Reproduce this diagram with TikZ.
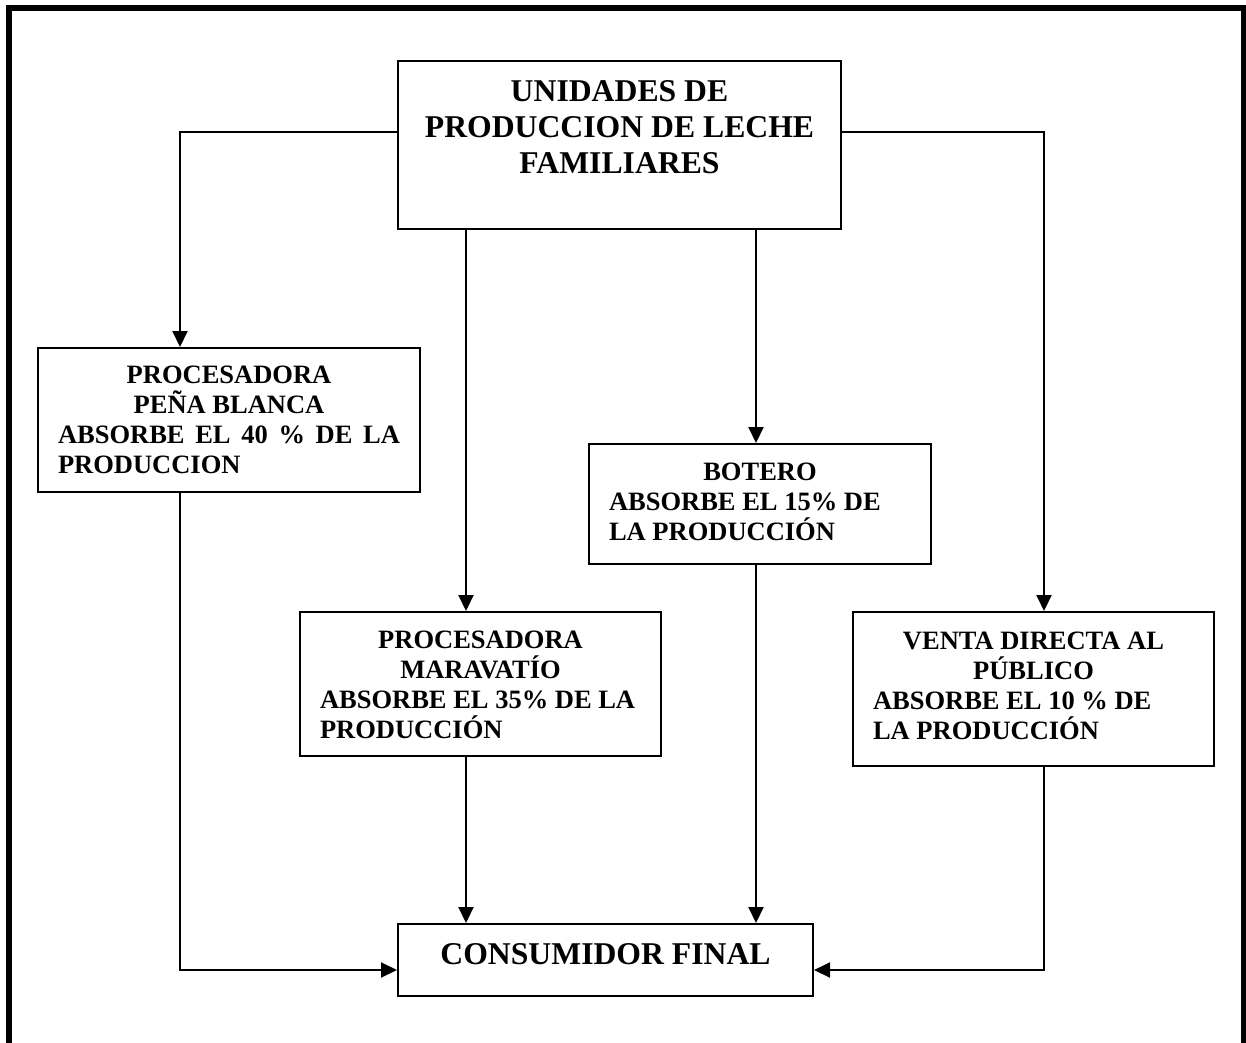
\documentclass[tikz,border=0pt]{standalone}
\usepackage{fontspec}
\setmainfont{Liberation Serif}
\usetikzlibrary{arrows.meta}
\begin{document}
\begin{tikzpicture}[x=1pt,y=-1pt,
  box/.style={draw, line width=2pt, inner xsep=20pt, inner ysep=0pt, anchor=north west,
              font=\bfseries\fontsize{26.5}{30}\selectfont},
  bigtext/.style={font=\bfseries\fontsize{31.7}{36}\selectfont},
  conn/.style={line width=2pt},
  arr/.style={conn, -{Triangle[length=16pt,width=15pt]}}]
\useasboundingbox (0,0) rectangle (1246,1042);
% outer frame (open at the bottom, cut by the page)
\draw[line width=6pt] (9,1060) -- (9,8) -- (1244,8) -- (1244,1060);

% boxes
\node[box, bigtext] (prod) at (397,60)
  {\parbox[c][168pt][t]{403pt}{\vspace*{20pt}\centering UNIDADES DE\\ PRODUCCION DE LECHE\\ FAMILIARES\par}};
\node[box] (pena) at (37,347)
  {\parbox[c][144pt][t]{342pt}{\vspace*{18pt}\centering PROCESADORA\\ PEÑA BLANCA\par
   \raggedright\makebox[\linewidth][s]{ABSORBE EL 40 \% DE LA}\\ PRODUCCION\par}};
\node[box] (bot) at (588,443)
  {\parbox[c][120pt][t]{302pt}{\vspace*{19pt}\centering BOTERO\par
   \raggedright ABSORBE EL 15\% DE\\ LA PRODUCCIÓN\par}};
\node[box] (mara) at (299,611)
  {\parbox[c][144pt][t]{321pt}{\vspace*{18.5pt}\centering PROCESADORA\\ MARAVATÍO\par
   \raggedright ABSORBE EL 35\% DE LA\\ PRODUCCIÓN\par}};
\node[box] (venta) at (852,611)
  {\parbox[c][154pt][t]{321pt}{\vspace*{20pt}\centering VENTA DIRECTA AL\\ PÚBLICO\par
   \raggedright ABSORBE EL 10 \% DE\\ LA PRODUCCIÓN\par}};
\node[box, bigtext] (cons) at (397,923)
  {\parbox[c][72pt][t]{375pt}{\vspace*{19pt}\centering CONSUMIDOR FINAL\par}};

% guide coordinates for the connector lanes
\coordinate (xp) at (180,0);
\coordinate (xm) at (466,0);
\coordinate (xb) at (756,0);
\coordinate (xv) at (1044,0);
\coordinate (yc) at (0,970);

% connectors
\draw[arr] ([yshift=13pt]prod.west) -| (pena.north -| xp);
\draw[arr] ([yshift=13pt]prod.east) -| (venta.north -| xv);
\draw[arr] (prod.south -| xm) -- (mara.north -| xm);
\draw[arr] (prod.south -| xb) -- (bot.north -| xb);
\draw[arr] (pena.south -| xp) |- (cons.west |- yc);
\draw[arr] (mara.south -| xm) -- (cons.north -| xm);
\draw[arr] (bot.south -| xb) -- (cons.north -| xb);
\draw[arr] (venta.south -| xv) |- (cons.east |- yc);
\end{tikzpicture}
\end{document}
